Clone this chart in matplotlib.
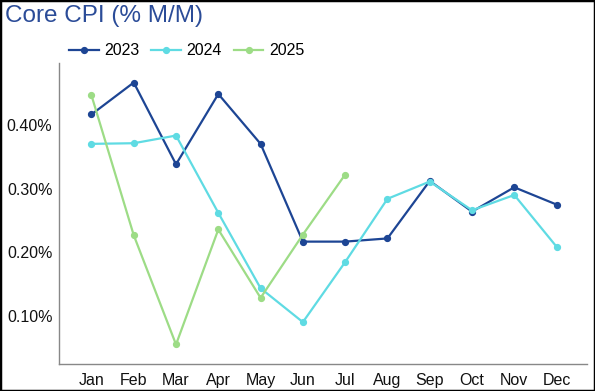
import matplotlib
matplotlib.use("Agg")
import matplotlib.pyplot as plt
from matplotlib.patches import Rectangle
from matplotlib.ticker import FuncFormatter

months = ["Jan", "Feb", "Mar", "Apr", "May", "Jun", "Jul", "Aug", "Sep", "Oct", "Nov", "Dec"]
cpi_2023 = [0.416, 0.466, 0.338, 0.448, 0.370, 0.217, 0.217, 0.222, 0.312, 0.264, 0.302, 0.275]
cpi_2024 = [0.370, 0.371, 0.383, 0.262, 0.144, 0.091, 0.185, 0.284, 0.311, 0.266, 0.290, 0.209]
cpi_2025 = [0.446, 0.227, 0.056, 0.236, 0.129, 0.228, 0.322]
yticks = [0.10, 0.20, 0.30, 0.40]

plt.rcParams['font.family'] = ['Liberation Sans', 'DejaVu Sans']

fig = plt.figure(figsize=(5.95, 3.91), dpi=100)
ax = fig.add_axes([0.0997, 0.0683, 0.8869, 0.7713])

x = list(range(len(months)))
series = [("2023", cpi_2023, "#1d4594"),
          ("2024", cpi_2024, "#5fdbe3"),
          ("2025", cpi_2025, "#9ddc86")]
for label, vals, col in series:
    ax.plot(x[:len(vals)], vals, color=col, lw=1.6, marker="o", ms=4.2, label=label)

ax.set_xlim(-0.76, 11.72)
ax.set_ylim(0.025, 0.497)
ax.set_xticks(x)
ax.set_xticklabels(months)
ax.set_yticks(yticks)
ax.yaxis.set_major_formatter(FuncFormatter(lambda v, p: f"{v:.2f}%"))
ax.tick_params(length=0, labelsize=11.5, colors="#111111")
ax.tick_params(axis="x", pad=6)
ax.tick_params(axis="y", pad=5)
for s in ["top", "right"]:
    ax.spines[s].set_visible(False)
for s in ["left", "bottom"]:
    ax.spines[s].set_color("#888888")
    ax.spines[s].set_linewidth(1.0)

fig.text(0.009, 0.944, "Core CPI (% M/M)", fontsize=17.5, color="#2b4c98", ha="left", va="baseline")

leg = fig.legend(loc="center left", bbox_to_anchor=(0.116, 0.870), ncol=3, frameon=False,
                 fontsize=11.5, handlelength=1.85, handletextpad=0.35, columnspacing=0.75,
                 borderaxespad=0, borderpad=0)

fig.patches.append(Rectangle((0, 0), 1, 1, transform=fig.transFigure, fill=False,
                             edgecolor="black", lw=2.5))

fig.savefig("out.png", dpi=100)
